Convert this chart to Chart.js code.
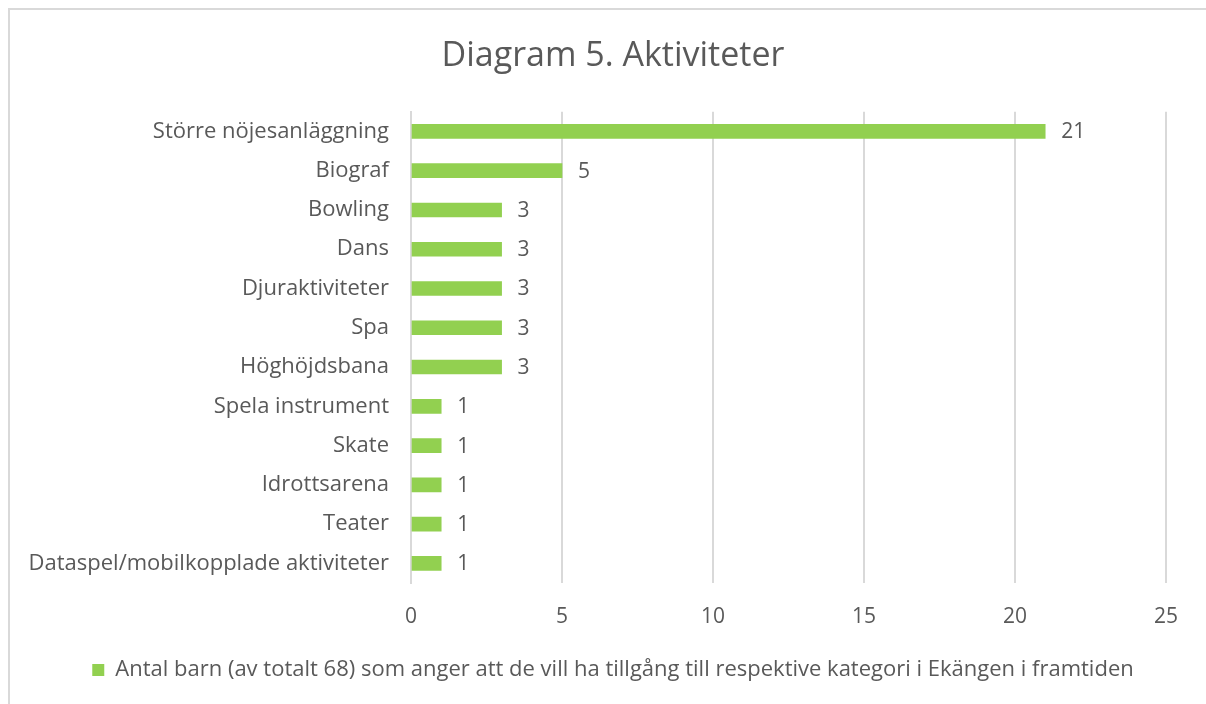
<!DOCTYPE html>
<html><head><meta charset="utf-8">
<script src="https://cdn.jsdelivr.net/npm/chart.js@4/dist/chart.umd.min.js"></script>
<style>html,body{margin:0;padding:0;background:#fff;}#wrap{position:relative;width:1206px;height:704px;}</style>
</head><body><div id="wrap"><canvas id="c" width="1206" height="704"></canvas></div>
<script>
const categories = ["Större nöjesanläggning","Biograf","Bowling","Dans","Djuraktiviteter","Spa","Höghöjdsbana","Spela instrument","Skate","Idrottsarena","Teater","Dataspel/mobilkopplade aktiviteter"];
const values = [21,5,3,3,3,3,3,1,1,1,1,1];
const seriesLabel = "Antal barn (av totalt 68) som anger att de vill ha tillgång till respektive kategori i Ekängen i framtiden";
const titleText = "Diagram 5. Aktiviteter";
const xTicks = [0,5,10,15,20,25];

const FONT = "'Open Sans', 'Noto Sans', sans-serif";
const GREY = "#595959";

const borderPlugin = {
  id: 'border',
  beforeDraw(chart){
    const ctx = chart.ctx;
    ctx.save();
    ctx.fillStyle = '#fff';
    ctx.fillRect(0,0,chart.width,chart.height);
    ctx.strokeStyle = '#d9d9d9';
    ctx.lineWidth = 2;
    ctx.beginPath();
    ctx.moveTo(9, chart.height + 5);
    ctx.lineTo(9, 9);
    ctx.lineTo(chart.width + 5, 9);
    ctx.stroke();
    ctx.restore();
  }
};
const labelPlugin = {
  id: 'vals',
  afterDatasetsDraw(chart){
    const ctx = chart.ctx;
    const meta = chart.getDatasetMeta(0);
    ctx.save();
    ctx.font = "21px " + FONT;
    ctx.fillStyle = GREY;
    ctx.textBaseline = 'middle';
    ctx.textAlign = 'left';
    meta.data.forEach((bar, i) => {
      ctx.fillText(String(values[i]), bar.x + 16, bar.y + 1);
    });
    ctx.restore();
  }
};

new Chart(document.getElementById('c'), {
  type: 'bar',
  data: {
    labels: categories,
    datasets: [{
      label: seriesLabel,
      data: values,
      backgroundColor: '#92D050',
      borderWidth: 0,
      barThickness: 14
    }]
  },
  options: {
    indexAxis: 'y',
    responsive: false,
    animation: false,
    layout: { padding: { left: 60, right: 40, top: 20, bottom: 13 } },
    plugins: {
      title: { display: true, text: titleText, color: GREY, font: { family: FONT, size: 34, weight: 'normal' }, padding: { top: 16, bottom: 35 } },
      legend: {
        position: 'bottom',
        labels: { color: GREY, font: { family: FONT, size: 22 }, boxWidth: 12, boxHeight: 12, padding: 10 }
      },
      tooltip: { enabled: false }
    },
    scales: {
      x: {
        min: 0, max: 25,
        afterBuildTicks(scale){ scale.ticks = xTicks.map(v => ({value: v})); },
        afterFit(scale){ scale.height = 66; },
        ticks: { color: GREY, font: { family: FONT, size: 21 }, padding: 21 },
        grid: { color: '#d9d9d9', lineWidth: 2, drawTicks: false },
        border: { display: false }
      },
      y: {
        afterFit(scale){
          scale.width = 351;
          scale._computeLabelArea = () => undefined;
        },
        ticks: { color: GREY, font: { family: FONT, size: 22 }, padding: 22 },
        grid: { display: false, drawTicks: false },
        border: { display: true, color: '#d9d9d9', width: 2 }
      }
    }
  },
  plugins: [borderPlugin, labelPlugin]
});
</script></body></html>
